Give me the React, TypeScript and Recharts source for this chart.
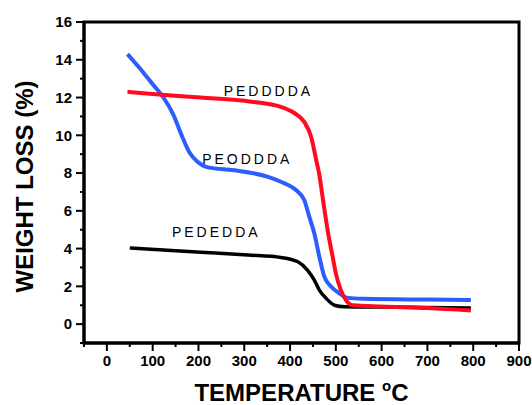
import React from "react";
import { LineChart, Line, XAxis, YAxis, ReferenceArea, ReferenceDot } from "recharts";

// PEDDDDA (red)
const pedddaTemp = [45, 120, 205, 315, 380, 409, 431, 446, 457, 464, 471, 482, 493, 500, 511, 522, 537, 600, 700, 795];
const pedddaLoss = [12.3, 12.15, 12.0, 11.78, 11.5, 11.18, 10.71, 9.92, 8.7, 7.9, 6.74, 4.98, 3.57, 2.69, 1.8, 1.27, 1.0, 0.93, 0.85, 0.72];

// PEODDDA (blue)
const peodddaTemp = [45, 70, 100, 125, 145, 165, 180, 198, 221, 278, 352, 380, 413, 431, 442, 453, 464, 475, 490, 508, 526, 560, 700, 795];
const peodddaLoss = [14.3, 13.6, 12.7, 11.95, 11.1, 9.9, 9.1, 8.6, 8.3, 8.15, 7.8, 7.54, 7.1, 6.57, 5.69, 4.8, 3.57, 2.5, 1.98, 1.62, 1.39, 1.34, 1.3, 1.28];

// PEDEDDA (black)
const pededdaTemp = [50, 205, 308, 380, 417, 438, 453, 464, 479, 497, 519, 600, 700, 795];
const pededdaLoss = [4.03, 3.81, 3.66, 3.53, 3.3, 2.86, 2.33, 1.8, 1.36, 1.0, 0.92, 0.9, 0.88, 0.86];

const xTicks = [-50, 0, 50, 100, 150, 200, 250, 300, 350, 400, 450, 500, 550, 600, 650, 700, 750, 800, 850, 900];
const yTicks = [-1, 0, 1, 2, 3, 4, 5, 6, 7, 8, 9, 10, 11, 12, 13, 14, 15, 16];

const toRows = (t: number[], w: number[]) => t.map((v, i) => ({ t: v, w: w[i] }));
const redData = toRows(pedddaTemp, pedddaLoss);
const blueData = toRows(peodddaTemp, peodddaLoss);
const blackData = toRows(pededdaTemp, pededdaLoss);

const FONT = "Arial, 'Liberation Sans', sans-serif";
const TICK = 8;
const GAP = 4;

const XTick = (p: any) => {
  const v = p.payload.value;
  const major = v % 100 === 0 && v >= 0;
  const top = p.y - GAP - TICK;
  return (
    <g>
      <line x1={p.x} x2={p.x} y1={top} y2={top + (major ? TICK : 4)} stroke="#000" strokeWidth={2} />
      {major && (
        <text x={p.x} y={p.y} dy="0.71em" textAnchor="middle" fontFamily={FONT} fontWeight="bold" fontSize={15} fill="#000">
          {v}
        </text>
      )}
    </g>
  );
};

const YTick = (p: any) => {
  const v = p.payload.value;
  const major = v % 2 === 0 && v >= 0;
  const right = p.x + GAP + TICK;
  return (
    <g>
      <line x1={right - (major ? TICK : 4)} x2={right} y1={p.y} y2={p.y} stroke="#000" strokeWidth={2} />
      {major && (
        <text x={p.x} y={p.y} dy="0.355em" textAnchor="end" fontFamily={FONT} fontWeight="bold" fontSize={15} fill="#000">
          {v}
        </text>
      )}
    </g>
  );
};

const XTitle = (p: any) => {
  const vb = p.viewBox;
  return (
    <text x={vb.x + vb.width / 2} y={vb.y + 58} textAnchor="middle" fontFamily={FONT} fontWeight="bold" fontSize={24} fill="#000">
      TEMPERATURE{" "}
      <tspan fontSize={15} dy={-10}>o</tspan>
      <tspan dy={10}>C</tspan>
    </text>
  );
};

const YTitle = (p: any) => {
  const vb = p.viewBox;
  const cx = vb.x;
  const cy = vb.y + vb.height / 2 + 4;
  return (
    <text x={cx} y={cy} dy="0.36em" transform={`rotate(-90 ${cx} ${cy})`} textAnchor="middle" fontFamily={FONT} fontWeight="bold" fontSize={24} fill="#000">
      WEIGHT LOSS (%)
    </text>
  );
};

const seriesLabel = (text: string) => (p: any) => (
  <text x={p.cx} y={p.cy} fontFamily={FONT} fontSize={14} letterSpacing={3} fill="#000">
    {text}
  </text>
);

export default function App() {
  return (
    <div style={{ position: "absolute", left: 0, top: 0, width: 532, height: 405, background: "#fff" }}>
      <LineChart width={532} height={405} margin={{ top: 22, right: 13, bottom: 32, left: 24 }}>
        <XAxis
          type="number"
          dataKey="t"
          domain={[-50, 900]}
          ticks={xTicks}
          interval={0}
          height={30}
          tickSize={TICK}
          tickMargin={GAP}
          tickLine={false}
          tick={XTick}
          axisLine={{ stroke: "#000", strokeWidth: 3 }}
          label={{ content: XTitle }}
        />
        <YAxis
          type="number"
          domain={[-1, 16]}
          ticks={yTicks}
          interval={0}
          width={60}
          tickSize={TICK}
          tickMargin={GAP}
          tickLine={false}
          tick={YTick}
          axisLine={{ stroke: "#000", strokeWidth: 3 }}
          label={{ content: YTitle }}
        />
        <ReferenceArea x1={-50} x2={900} y1={-1} y2={16} fill="none" stroke="#000" strokeWidth={3} ifOverflow="visible" />
        <Line data={blackData} dataKey="w" type="monotone" stroke="#000000" strokeWidth={3.5} dot={false} isAnimationActive={false} />
        <Line data={blueData} dataKey="w" type="monotone" stroke="#2d5cff" strokeWidth={4} dot={false} isAnimationActive={false} />
        <Line data={redData} dataKey="w" type="monotone" stroke="#ff0a1e" strokeWidth={4} dot={false} isAnimationActive={false} />
        <ReferenceDot x={255} y={12.08} r={0} shape={seriesLabel("PEDDDDA")} />
        <ReferenceDot x={208} y={8.48} r={0} shape={seriesLabel("PEODDDA")} />
        <ReferenceDot x={142} y={4.61} r={0} shape={seriesLabel("PEDEDDA")} />
      </LineChart>
    </div>
  );
}
